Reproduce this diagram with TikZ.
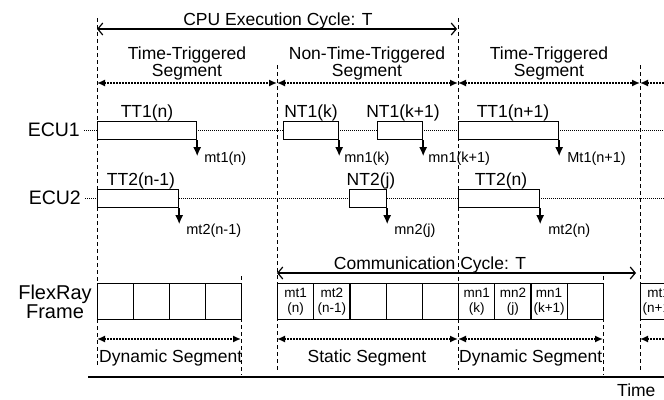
\documentclass[tikz,border=0pt]{standalone}
\usepackage{fontspec}
\setmainfont{Liberation Sans}
\usetikzlibrary{arrows.meta,calc}
\begin{document}
\begin{tikzpicture}[x=1pt,y=-1pt,
  lbl/.style={font=\fontsize{17.5}{17}\selectfont, inner sep=0pt},
  big/.style={font=\fontsize{19.5}{19}\selectfont, inner sep=0pt},
  small/.style={font=\fontsize{14.5}{15}\selectfont, inner sep=0pt, anchor=west},
  celltxt/.style={font=\fontsize{13.5}{14.5}\selectfont, align=center},
  vdash/.style={line width=1pt, dash pattern=on 4pt off 3pt},
  segarrow/.style={line width=1.5pt, dash pattern=on 1.5pt off 1.5pt},
  tipL/.style={{Latex[length=8pt,width=7pt]}-},
  tipR/.style={-{Latex[length=8pt,width=7pt]}},
  tipLR/.style={{Latex[length=8pt,width=7pt]}-{Latex[length=8pt,width=7pt]}},
  eculine/.style={line width=0.8pt, dash pattern=on 1pt off 1pt},
  taskbox/.style={draw, line width=1.2pt, fill=white, minimum height=18pt, inner sep=0pt, anchor=north west},
  msg/.style={line width=1.5pt, -{Latex[length=9pt,width=8pt]}},
  cell/.style={draw, line width=1.2pt, minimum height=36pt, inner sep=0pt, anchor=north west, celltxt},
  cyclearrow/.style={line width=1.2pt, {Straight Barb[length=5pt,width=12pt]}-{Straight Barb[length=5pt,width=12pt]}}
]
\useasboundingbox (0,0) rectangle (664,399);
\clip (0,0) rectangle (664,399);

% vertical dashed boundaries
\coordinate (v1t) at (97,18);  \coordinate (v1b) at (97,367);
\coordinate (v2t) at (277,65); \coordinate (v2b) at (277,370);
\coordinate (v3t) at (458,18); \coordinate (v3b) at (458,370);
\coordinate (v4t) at (640,65); \coordinate (v4b) at (640,370);
\coordinate (v5t) at (241,276); \coordinate (v5b) at (241,375);
\coordinate (v6t) at (603,276); \coordinate (v6b) at (603,375);
\foreach \v in {v1,v2,v3,v4,v5,v6} \draw[vdash] (\v t) -- (\v b);

% CPU execution cycle
\coordinate (cpuL) at (97,29); \coordinate (cpuR) at (457,29);
\draw[cyclearrow] (cpuL) -- (cpuR);
\node[lbl, anchor=base] (cpu) at (278,25) {CPU Execution Cycle: T};

% segment labels
\node[lbl, anchor=north, align=center] (seg1) at (187,47) {Time-Triggered\\Segment};
\node[lbl, anchor=north, align=center] (seg2) at (367,47) {Non-Time-Triggered\\Segment};
\node[lbl, anchor=north, align=center] (seg3) at (549,47) {Time-Triggered\\Segment};
\coordinate (s0) at (97,83); \coordinate (s1) at (277,83);
\coordinate (s2) at (458,83); \coordinate (s3) at (640,83);
\coordinate (s4) at (670,83);
\draw[segarrow, tipLR] (s0) -- (s1);
\draw[segarrow, tipLR] (s1) -- (s2);
\draw[segarrow, tipLR] (s2) -- (s3);
\draw[segarrow, tipL] (s3) -- (s4);

% ECU rows
\node[big, anchor=east] (ecu1) at (80,130) {ECU1};
\node[big, anchor=east] (ecu2) at (81,198) {ECU2};
\coordinate (e1end) at (670,130);
\coordinate (e2end) at (670,198);
\draw[eculine] (ecu1.east) ++(4,0) -- (e1end);
\draw[eculine] (ecu2.east) ++(4,0) -- (e2end);

\node[taskbox, minimum width=99pt] (tt1) at (97,121) {};
\node[taskbox, minimum width=55pt] (nt1k) at (283,121) {};
\node[taskbox, minimum width=45pt] (nt1k1) at (377,121) {};
\node[taskbox, minimum width=100pt] (tt1n1) at (458,121) {};
\node[taskbox, minimum width=81pt] (tt2a) at (97,189) {};
\node[taskbox, minimum width=37pt] (nt2j) at (349,189) {};
\node[taskbox, minimum width=81pt] (tt2n) at (458,189) {};

\node[lbl] (ltt1) at (147,113) {TT1(n)};
\node[lbl] (lnt1k) at (311,113) {NT1(k)};
\node[lbl] (lnt1k1) at (403,113) {NT1(k+1)};
\node[lbl] (ltt1n1) at (513,113) {TT1(n+1)};
\node[lbl] (ltt2a) at (141,181) {TT2(n-1)};
\node[lbl] (lnt2j) at (371,181) {NT2(j)};
\node[lbl] (ltt2n) at (501,181) {TT2(n)};

% messages
\foreach \b/\t/\dx in {tt1/mt1(n)/7, nt1k/mn1(k)/5, nt1k1/mn1(k+1)/5, tt1n1/Mt1(n+1)/8}{
  \coordinate (\b-tip) at ($(\b.south east)+(0,16)$);
  \draw[msg] (\b.south east) -- (\b-tip);
  \node[small] (\b-msg) at ($(\b.south east)+(\dx,19)$) {\t};
}
\foreach \b/\t/\dx in {tt2a/mt2(n-1)/7, nt2j/mn2(j)/7, tt2n/mt2(n)/8}{
  \coordinate (\b-tip) at ($(\b.south east)+(0,16)$);
  \draw[msg] (\b.south east) -- (\b-tip);
  \node[small] (\b-msg) at ($(\b.south east)+(\dx,23)$) {\t};
}

% communication cycle
\coordinate (ccL) at (277,273); \coordinate (ccR) at (636,273);
\draw[cyclearrow] (ccL) -- (ccR);
\node[lbl, anchor=base] (cc) at (430,269) {Communication Cycle: T};

% FlexRay frames
\node[font=\fontsize{20}{19}\selectfont, align=center, inner sep=0pt] (fr) at (55,302) {FlexRay\\Frame};
\foreach \i in {0,...,3} \node[cell, minimum width=36pt] (fa\i) at (97+36*\i,283) {};
\foreach \i/\t in {0/{mt1\\(n)},1/{mt2\\(n-1)},2/{},3/{},4/{},5/{mn1\\(k)},6/{mn2\\(j)},7/{mn1\\(k+1)},8/{}}
  \node[cell, minimum width=36.2pt] (fb\i) at (277+36.2*\i,283) {\t};
\node[cell, minimum width=36pt] (fc0) at (640,283) {mt1\\(n+1)};

% bottom segment arrows
\coordinate (b0) at (97,339); \coordinate (b1) at (241,339);
\coordinate (b2) at (277,339); \coordinate (b3) at (458,339);
\coordinate (b4) at (603,339); \coordinate (b5) at (640,339);
\coordinate (b6) at (670,339);
\draw[segarrow, tipLR] (b0) -- (b1);
\draw[segarrow, tipLR] (b2) -- (b3);
\draw[segarrow, tipLR] (b3) -- (b4);
\draw[segarrow, tipL] (b5) -- (b6);
\node[lbl, anchor=west] (ds1) at (99,358) {Dynamic Segment};
\node[lbl] (ss) at (367,358) {Static Segment};
\node[lbl, anchor=west] (ds2) at (459,358) {Dynamic Segment};

% time axis
\coordinate (tl) at (88,377); \coordinate (tr) at (670,377);
\draw[line width=2pt] (tl) -- (tr);
\node[lbl, anchor=west] (time) at (617,390) {Time};
\end{tikzpicture}
\end{document}
